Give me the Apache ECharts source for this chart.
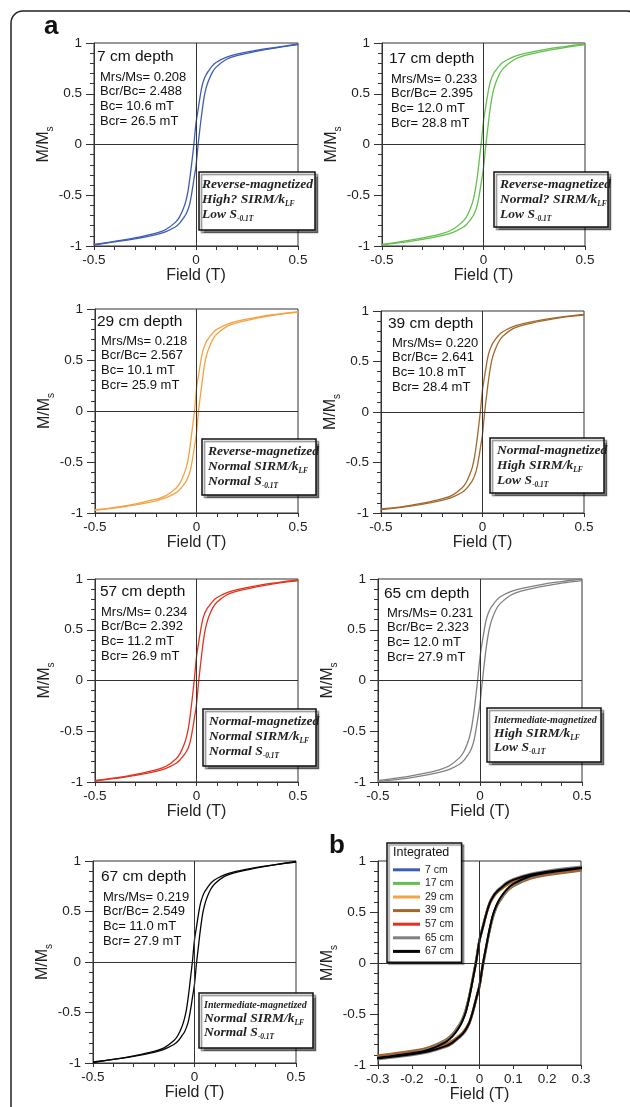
<!DOCTYPE html>
<html><head><meta charset="utf-8">
<script src="https://cdn.jsdelivr.net/npm/echarts@6/dist/echarts.min.js"></script>
<style>html,body{margin:0;padding:0;background:#fff}#c{width:630px;height:1107px}</style>
</head><body><div id="c"></div>
<script>
// ---------- DATA ----------
const fieldT = [-0.5,-0.4,-0.3,-0.2,-0.15,-0.1,-0.08,-0.06,-0.05,-0.04,-0.03,-0.02,-0.01,0,0.01,0.02,0.03,0.04,0.05,0.06,0.08,0.1,0.15,0.2,0.3,0.4,0.5];
const depthLabels = ['7 cm','17 cm','29 cm','39 cm','57 cm','65 cm','67 cm'];

// descending-field (upper) and ascending-field (lower) branches, M/Ms
const upper7  = [-0.985,-0.955,-0.92,-0.875,-0.84,-0.765,-0.71,-0.62,-0.56,-0.47,-0.33,-0.17,0.01,0.21,0.34,0.47,0.58,0.645,0.69,0.72,0.775,0.81,0.86,0.89,0.93,0.96,0.99];
const lower7  = [-0.99,-0.96,-0.93,-0.89,-0.86,-0.81,-0.775,-0.72,-0.69,-0.645,-0.58,-0.47,-0.34,-0.21,-0.01,0.17,0.33,0.47,0.56,0.62,0.71,0.765,0.84,0.875,0.92,0.955,0.985];
const upper17 = [-0.985,-0.955,-0.92,-0.875,-0.835,-0.755,-0.70,-0.605,-0.54,-0.445,-0.31,-0.14,0.035,0.23,0.36,0.485,0.59,0.655,0.70,0.73,0.78,0.815,0.865,0.895,0.935,0.965,0.99];
const lower17 = [-0.99,-0.965,-0.935,-0.895,-0.865,-0.815,-0.78,-0.73,-0.70,-0.655,-0.59,-0.485,-0.36,-0.23,-0.035,0.14,0.31,0.445,0.54,0.605,0.70,0.755,0.835,0.875,0.92,0.955,0.985];
const upper29 = [-0.967,-0.945,-0.91,-0.865,-0.83,-0.755,-0.70,-0.61,-0.55,-0.46,-0.32,-0.16,0.0,0.22,0.35,0.475,0.58,0.64,0.685,0.715,0.765,0.80,0.85,0.88,0.92,0.95,0.975];
const lower29 = [-0.975,-0.95,-0.92,-0.88,-0.85,-0.80,-0.765,-0.715,-0.685,-0.64,-0.58,-0.475,-0.35,-0.22,0.0,0.16,0.32,0.46,0.55,0.61,0.70,0.755,0.83,0.865,0.91,0.945,0.967];
const upper39 = [-0.96,-0.94,-0.905,-0.86,-0.825,-0.75,-0.695,-0.605,-0.545,-0.455,-0.32,-0.16,0.015,0.22,0.35,0.475,0.575,0.635,0.68,0.71,0.76,0.795,0.845,0.875,0.915,0.945,0.967];
const lower39 = [-0.967,-0.945,-0.915,-0.875,-0.845,-0.795,-0.76,-0.71,-0.68,-0.635,-0.575,-0.475,-0.35,-0.22,-0.015,0.16,0.32,0.455,0.545,0.605,0.695,0.75,0.825,0.86,0.905,0.94,0.96];
const upper57 = [-0.985,-0.96,-0.925,-0.88,-0.845,-0.77,-0.715,-0.625,-0.56,-0.47,-0.33,-0.16,0.025,0.234,0.365,0.49,0.595,0.66,0.70,0.73,0.78,0.815,0.865,0.895,0.935,0.965,0.99];
const lower57 = [-0.99,-0.965,-0.935,-0.895,-0.865,-0.815,-0.78,-0.73,-0.70,-0.66,-0.595,-0.49,-0.365,-0.234,-0.025,0.16,0.33,0.47,0.56,0.625,0.715,0.77,0.845,0.88,0.925,0.96,0.985];
const upper65 = [-0.985,-0.96,-0.925,-0.88,-0.84,-0.76,-0.705,-0.61,-0.545,-0.45,-0.315,-0.145,0.035,0.231,0.365,0.49,0.595,0.66,0.705,0.735,0.79,0.825,0.875,0.905,0.945,0.975,1.0];
const lower65 = [-0.995,-0.975,-0.945,-0.905,-0.875,-0.825,-0.79,-0.735,-0.705,-0.66,-0.595,-0.49,-0.365,-0.231,-0.035,0.145,0.315,0.45,0.545,0.61,0.705,0.76,0.84,0.88,0.925,0.96,0.985];
const upper67 = [-0.99,-0.965,-0.93,-0.885,-0.85,-0.775,-0.72,-0.63,-0.565,-0.475,-0.335,-0.165,0.01,0.219,0.35,0.48,0.585,0.65,0.695,0.725,0.78,0.815,0.865,0.895,0.935,0.965,0.995];
const lower67 = [-0.995,-0.965,-0.935,-0.895,-0.865,-0.815,-0.78,-0.725,-0.695,-0.65,-0.585,-0.48,-0.35,-0.219,-0.01,0.165,0.335,0.475,0.565,0.63,0.72,0.775,0.85,0.885,0.93,0.965,0.99];

const mrsMs = ['0.208','0.233','0.218','0.220','0.234','0.231','0.219'];
const bcrBc = ['2.488','2.395','2.567','2.641','2.392','2.323','2.549'];
const bcMT  = ['10.6','12.0','10.1','10.8','11.2','12.0','11.0'];
const bcrMT = ['26.5','28.8','25.9','28.4','26.9','27.9','27.9'];
const magState  = ['Reverse-magnetized','Reverse-magnetized','Reverse-magnetized','Normal-magnetized','Normal-magnetized','Intermediate-magnetized','Intermediate-magnetized'];
const sirmClass = ['High?','Normal?','Normal','High','Normal','High','Normal'];
const sClass    = ['Low','Low','Normal','Low','Normal','Low','Normal'];

const xTickLabelsA = [-0.5, 0, 0.5];
const xTickLabelsB = [-0.3,-0.2,-0.1,0,0.1,0.2,0.3];
const yTickLabels  = [-1,-0.5,0,0.5,1];

// ---------- STYLE / LAYOUT ----------
const uppers = [upper7,upper17,upper29,upper39,upper57,upper65,upper67];
const lowers = [lower7,lower17,lower29,lower39,lower57,lower65,lower67];
const colors = ['#3d5cb6','#62c04c','#f6a243','#a3682d','#e3321e','#808080','#050505'];

const layout = [
  {g:[94,43,204,203],  t:[3,14], s:[6,34], box:[199,172,116,58], pad:3},
  {g:[382,43,203,203], t:[7,16], s:[9,36], box:[494,172,114,55], pad:6},
  {g:[95,309,203,204], t:[2,13], s:[6,32], box:[202,439,114,56], pad:6},
  {g:[381,311,203,202],t:[7,13], s:[11,32],box:[490,438,114,55], pad:7},
  {g:[95,579,203,203], t:[5,13], s:[6,33], box:[203,709,113,57], pad:6},
  {g:[378,579,204,203],t:[6,15], s:[9,34], box:[487,708,114,54], pad:7},
  {g:[93,861,203,202], t:[8,16], s:[10,36],box:[199,993,114,55], pad:5},
  {g:[378,861,203,204]}
];

const SANS = 'Liberation Sans';
const SERIF = 'Liberation Serif';
const axisColor = '#333';

const grids=[], xAxes=[], yAxes=[], series=[], graphics=[];

function fmtTick(list){
  return function(v){
    for (const t of list){ if (Math.abs(t - v) < 1e-9) return String(t); }
    return '';
  };
}

layout.forEach((L,i)=>{
  grids.push({left:L.g[0], top:L.g[1], width:L.g[2], height:L.g[3], show:true, borderColor:axisColor, borderWidth:1, backgroundColor:'transparent'});
  const isB = i===7;
  xAxes.push({
    gridIndex:i, type:'value', min:isB?-0.3:-0.5, max:isB?0.3:0.5, interval:0.1,
    axisLine:{show:true, onZero:false, lineStyle:{color:axisColor,width:1}},
    axisTick:{show:true, length:4, lineStyle:{color:axisColor}},
    splitLine:{show:false},
    axisLabel:{fontSize:13.5, fontFamily:SANS, color:'#222', margin:7, formatter: fmtTick(isB?xTickLabelsB:xTickLabelsA)},
    name:'Field (T)', nameLocation:'middle', nameGap:21,
    nameTextStyle:{fontSize:16, fontFamily:SANS, color:'#222'}
  });
  yAxes.push({
    gridIndex:i, type:'value', min:-1, max:1, interval:0.5,
    axisLine:{show:true, onZero:false, lineStyle:{color:axisColor,width:1}},
    axisTick:{show:true, length:8, lineStyle:{color:axisColor}},
    minorTick:{show:true, splitNumber:5, length:4, lineStyle:{color:axisColor}},
    splitLine:{show:false}, minorSplitLine:{show:false},
    axisLabel:{fontSize:13.5, fontFamily:SANS, color:'#222', margin:12, formatter: fmtTick(yTickLabels)},
    name:'{m|M/M}{s|s}', nameLocation:'middle', nameRotate:90, nameGap:38,
    nameTextStyle:{rich:{
      m:{fontSize:16, fontFamily:SANS, color:'#222', lineHeight:22, verticalAlign:'middle'},
      s:{fontSize:10, fontFamily:SANS, color:'#222', lineHeight:10, verticalAlign:'bottom'}
    }}
  });
});

const zeroLines = {silent:true, symbol:'none', label:{show:false}, animation:false,
  lineStyle:{color:axisColor, width:1, type:'solid'}, data:[{xAxis:0},{yAxis:0}]};

function branch(arr){ return fieldT.map((x,k)=>[x, arr[k]]); }

// panels a
for (let p=0;p<7;p++){
  [uppers[p], lowers[p]].forEach((arr,j)=>{
    series.push({
      type:'line', name: depthLabels[p]+' depth', xAxisIndex:p, yAxisIndex:p,
      data: branch(arr), showSymbol:false, smooth:0.4,
      lineStyle:{color:colors[p], width:1.3}, itemStyle:{color:colors[p]},
      z:3, markLine: j===0 ? zeroLines : undefined
    });
  });
}
// panel b
for (let p=0;p<7;p++){
  [uppers[p], lowers[p]].forEach((arr,j)=>{
    series.push({
      type:'line', name: depthLabels[p], xAxisIndex:7, yAxisIndex:7,
      data: branch(arr), showSymbol:false, smooth:0.4,
      lineStyle:{color:colors[p], width:2}, itemStyle:{color:colors[p]},
      z:3, markLine: (p===0 && j===0) ? zeroLines : undefined
    });
  });
}

// outer frame + panel letters
graphics.push({type:'rect', z:100, shape:{x:11, y:11, width:628, height:1140, r:12},
  style:{fill:'none', stroke:'#222', lineWidth:1.5}});
graphics.push({type:'text', z:100, x:44, y:27, style:{text:'a', fontSize:26, fontWeight:'bold', fontFamily:SANS, fill:'#111', verticalAlign:'middle'}});
graphics.push({type:'text', z:100, x:329, y:846, style:{text:'b', fontSize:26, fontWeight:'bold', fontFamily:SANS, fill:'#111', verticalAlign:'middle'}});

// in-plot annotations
const boxRich = (fs)=>({
  n:{fontSize:fs, fontFamily:SERIF, fontStyle:'italic', fontWeight:'bold', fill:'#222', color:'#222', lineHeight:16, verticalAlign:'middle'},
  sub:{fontSize:7.5, fontFamily:SERIF, fontStyle:'italic', fontWeight:'bold', fill:'#222', color:'#222', lineHeight:7, verticalAlign:'bottom'}
});
for (let p=0;p<7;p++){
  const L = layout[p];
  const gx = L.g[0], gy = L.g[1];
  graphics.push({type:'text', z:100, x:gx+L.t[0], y:gy+L.t[1], style:{text: depthLabels[p]+' depth', fontSize:15.5, fontFamily:SANS, fill:'#111', verticalAlign:'middle'}});
  const stats = ['Mrs/Ms= '+mrsMs[p], 'Bcr/Bc= '+bcrBc[p], 'Bc= '+bcMT[p]+' mT', 'Bcr= '+bcrMT[p]+' mT'];
  stats.forEach((s,k)=>{
    graphics.push({type:'text', z:100, x:gx+L.s[0], y:gy+L.s[1]+k*14.8, style:{text:s, fontSize:13, fontFamily:SANS, fill:'#111', verticalAlign:'middle'}});
  });
  const b = L.box;
  graphics.push({type:'rect', z:100, shape:{x:b[0], y:b[1], width:b[2], height:b[3]},
    style:{fill:'#fff', stroke:'#111', lineWidth:1.5, shadowColor:'rgba(0,0,0,0.45)', shadowOffsetX:2.5, shadowOffsetY:2.5, shadowBlur:1}});
  const inter = magState[p].startsWith('Intermediate');
  const offs = inter ? [12,26,40] : [13,28,43];
  const lines = [
    '{n|'+magState[p]+'}',
    '{n|'+sirmClass[p]+' SIRM/k}{sub|LF}',
    '{n|'+sClass[p]+' S}{sub|-0.1T}'
  ];
  lines.forEach((t,k)=>{
    const fs = (inter && k===0) ? 10 : 13.5;
    graphics.push({type:'text', z:101, x:b[0]+L.pad, y:b[1]+offs[k], style:{text:t, rich:boxRich(fs), verticalAlign:'middle'}});
  });
}
// legend title
graphics.push({type:'text', z:120, x:393, y:853, style:{text:'Integrated', fontSize:12.5, fontFamily:SANS, fill:'#111', verticalAlign:'middle'}});

const chart = echarts.init(document.getElementById('c'), null, {renderer:'canvas'});
chart.setOption({
  animation:false,
  backgroundColor:'#fff',
  grid:grids, xAxis:xAxes, yAxis:yAxes, series:series,
  legend:{
    data:depthLabels, orient:'vertical', left:387, top:843,
    padding:[21,8,5,6], itemWidth:27, itemHeight:3, itemGap:2, icon:'rect',
    textStyle:{fontSize:10.5, fontFamily:SANS, color:'#222', lineHeight:11.6},
    backgroundColor:'#fff', borderColor:'#111', borderWidth:1.5,
    shadowColor:'rgba(0,0,0,0.4)', shadowOffsetX:2, shadowOffsetY:2, shadowBlur:1,
    selectedMode:false, z:10
  },
  graphic:{elements:graphics}
});
</script></body></html>
